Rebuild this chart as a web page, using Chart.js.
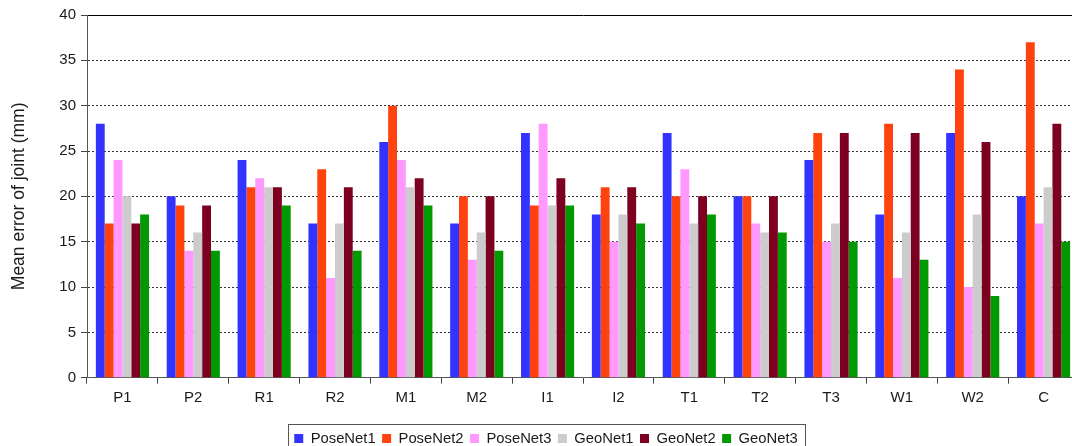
<!DOCTYPE html>
<html>
<head>
<meta charset="utf-8">
<script src="https://cdn.jsdelivr.net/npm/chart.js@4/dist/chart.umd.min.js"></script>
<style>
  html, body { margin: 0; padding: 0; background: #fff; overflow: hidden; }
  #wrap { position: relative; width: 1079px; height: 456px; }
</style>
</head>
<body>
<div id="wrap"><canvas id="chart"></canvas></div>
<script>
// Joint groups along the x axis
const categories = ['P1', 'P2', 'R1', 'R2', 'M1', 'M2', 'I1', 'I2', 'T1', 'T2', 'T3', 'W1', 'W2', 'C'];

// Mean joint error (mm) per network
const poseNet1 = [28, 20, 24, 17, 26, 17, 27, 18, 27, 20, 24, 18, 27, 20];
const poseNet2 = [17, 19, 21, 23, 30, 20, 19, 21, 20, 20, 27, 28, 34, 37];
const poseNet3 = [24, 14, 22, 11, 24, 13, 28, 15, 23, 17, 15, 11, 10, 17];
const geoNet1  = [20, 16, 21, 17, 21, 16, 19, 18, 17, 16, 17, 16, 18, 21];
const geoNet2  = [17, 19, 21, 21, 22, 20, 22, 21, 20, 20, 27, 27, 26, 28];
const geoNet3  = [18, 14, 19, 14, 19, 14, 19, 17, 18, 16, 15, 13,  9, 15];

// Y axis range
const yMin = 0;
const yMax = 40;
const yStep = 5;

const seriesNames = ['PoseNet1', 'PoseNet2', 'PoseNet3', 'GeoNet1', 'GeoNet2', 'GeoNet3'];
const seriesValues = [poseNet1, poseNet2, poseNet3, geoNet1, geoNet2, geoNet3];
const seriesColors = ['#3333ff', '#ff420e', '#ff99ff', '#cccccc', '#7e0021', '#009900'];

const FONT = "'Liberation Sans', Arial, sans-serif";
const TEXT = '#1a1a1a';

// Thin frame around the legend entries
const legendFrame = {
  id: 'legendFrame',
  afterDraw(chart) {
    const lg = chart.legend;
    if (!lg || !lg.legendHitBoxes || !lg.legendHitBoxes.length) return;
    const boxes = lg.legendHitBoxes;
    const first = boxes[0];
    const last = boxes[boxes.length - 1];
    const x1 = first.left - 6;
    const x2 = last.left + last.width + 7;
    const y1 = first.top - 7.5;
    const y2 = first.top + first.height + 7.5;
    const ctx = chart.ctx;
    ctx.save();
    ctx.strokeStyle = '#555555';
    ctx.lineWidth = 1;
    ctx.strokeRect(Math.round(x1) + 0.5, Math.round(y1) + 0.5, Math.round(x2 - x1), Math.round(y2 - y1));
    ctx.restore();
  }
};

new Chart(document.getElementById('chart'), {
  type: 'bar',
  data: {
    labels: categories,
    datasets: seriesNames.map((name, i) => ({
      label: name,
      data: seriesValues[i],
      backgroundColor: seriesColors[i],
      borderWidth: 0,
      categoryPercentage: 0.75,
      barPercentage: 1.0
    }))
  },
  options: {
    responsive: true,
    maintainAspectRatio: false,
    animation: false,
    layout: { padding: { left: 13, top: 15, right: 0, bottom: 0 } },
    plugins: {
      tooltip: { enabled: false },
      legend: {
        position: 'bottom',
        labels: {
          boxWidth: 9,
          boxHeight: 9,
          padding: 6.5,
          color: TEXT,
          font: { family: FONT, size: 14.8 }
        }
      }
    },
    scales: {
      x: {
        type: 'category',
        offset: true,
        grid: {
          offset: true,
          drawOnChartArea: false,
          drawTicks: true,
          tickLength: 6,
          tickColor: '#444444',
          tickWidth: 1
        },
        border: { display: true, color: '#555555', width: 1 },
        ticks: {
          color: TEXT,
          padding: 5,
          maxRotation: 0,
          autoSkip: false,
          font: { family: FONT, size: 15 }
        },
        afterFit(scale) { scale.height = 47; }
      },
      xTop: {
        type: 'category',
        position: 'top',
        offset: true,
        grid: { display: false, drawTicks: false },
        ticks: { display: false },
        border: { display: true, color: '#000000', width: 1 },
        afterFit(scale) { scale.height = 0; }
      },
      y: {
        min: yMin,
        max: yMax,
        grid: {
          color: '#333333',
          lineWidth: 1,
          drawTicks: true,
          tickLength: 6,
          tickColor: '#444444',
          tickBorderDash: []
        },
        border: { display: true, color: '#555555', width: 1, dash: [2, 2] },
        ticks: {
          stepSize: yStep,
          color: TEXT,
          padding: 5,
          font: { family: FONT, size: 15 }
        },
        title: {
          display: true,
          text: 'Mean error of joint (mm)',
          color: TEXT,
          padding: { top: -4.5, bottom: 0 },
          font: { family: FONT, size: 17.5 }
        },
        afterFit(scale) { scale.width = 74; }
      }
    }
  },
  plugins: [legendFrame]
});
</script>
</body>
</html>
